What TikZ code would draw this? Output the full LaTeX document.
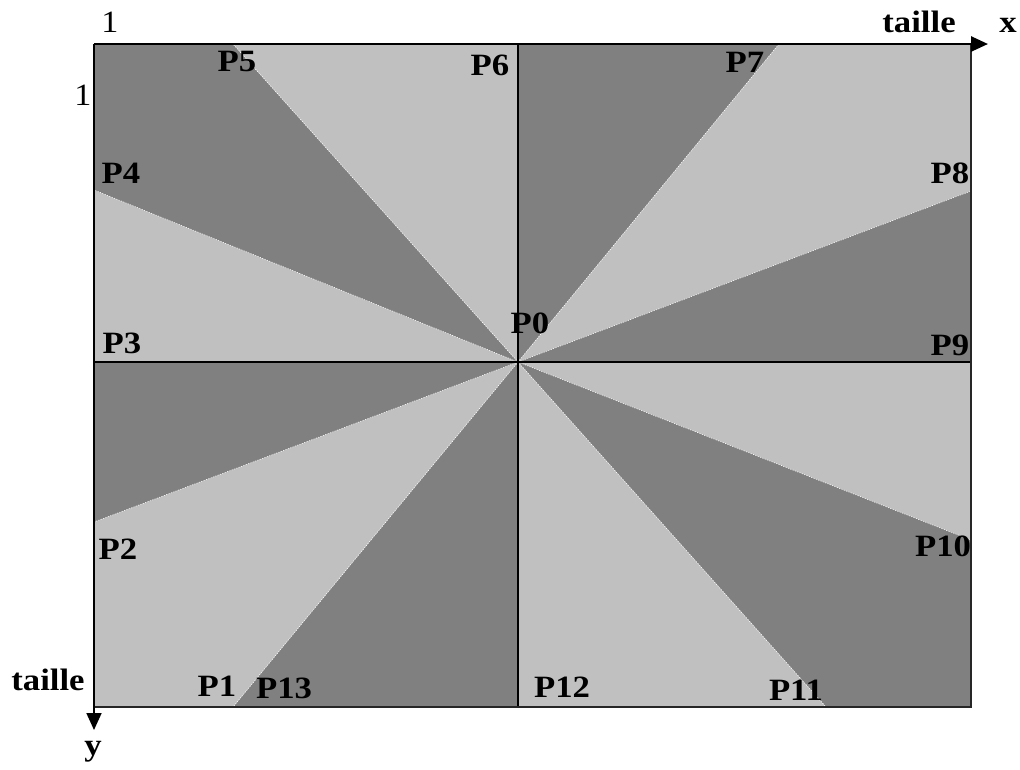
\documentclass[tikz,border=0pt]{standalone}
\usepackage{fontspec}
\setmainfont{Liberation Serif}
\usetikzlibrary{arrows.meta}
\definecolor{darkg}{RGB}{128,128,128}
\definecolor{lightg}{RGB}{192,192,192}
\begin{document}
\begin{tikzpicture}[x=1pt,y=-1pt,
  lbl/.style={font=\fontsize{31}{33}\selectfont\bfseries, inner sep=0pt, xscale=1.12},
  plain/.style={font=\fontsize{31}{33}\selectfont, inner sep=0pt, xscale=1.1},
  darkzone/.style={fill=darkg},
  lightzone/.style={fill=lightg},
  seam/.style={draw=white, line width=0.6pt, dash pattern=on 1pt off 1.5pt},
  axisline/.style={-{Triangle[length=17pt,width=15pt]}}]
\useasboundingbox (0,0) rectangle (1020,769);
% corner and edge points
\coordinate (O) at (518,362);
\coordinate (TL) at (94,44);
\coordinate (TR) at (971,44);
\coordinate (BR) at (971,707);
\coordinate (BL) at (94,707);
\coordinate (P1) at (233,707);
\coordinate (P2) at (94,522);
\coordinate (P3) at (94,362);
\coordinate (P4) at (94,190);
\coordinate (P5) at (233,44);
\coordinate (P6) at (518,44);
\coordinate (P7) at (779,44);
\coordinate (P8) at (971,191);
\coordinate (P9) at (971,362);
\coordinate (P10) at (971,540);
\coordinate (P11) at (826,707);
\coordinate (P12) at (518,707);
\coordinate (P13) at (233,707);
\coordinate (XE) at (988,44);
\coordinate (YE) at (94,730);
% sectors
\fill[lightzone] (O) -- (P3) -- (P4) -- cycle;
\fill[darkzone] (O) -- (P4) -- (TL) -- (P5) -- cycle;
\fill[lightzone] (O) -- (P5) -- (P6) -- cycle;
\fill[darkzone] (O) -- (P6) -- (P7) -- cycle;
\fill[lightzone] (O) -- (P7) -- (TR) -- (P8) -- cycle;
\fill[darkzone] (O) -- (P8) -- (P9) -- cycle;
\fill[lightzone] (O) -- (P9) -- (P10) -- cycle;
\fill[darkzone] (O) -- (P10) -- (BR) -- (P11) -- cycle;
\fill[lightzone] (O) -- (P11) -- (P12) -- cycle;
\fill[darkzone] (O) -- (P12) -- (P13) -- cycle;
\fill[lightzone] (O) -- (P1) -- (BL) -- (P2) -- cycle;
\fill[darkzone] (O) -- (P2) -- (P3) -- cycle;
% seams
\foreach \p in {P1,P2,P4,P5,P7,P8,P10,P11}{\draw[seam] (O) -- (\p);}
% black lines
\draw[line width=1.3pt] (P3) -- (P9);
\draw[line width=1.3pt] (P6) -- (P12);
\draw[line width=1.3pt, draw=black!85] (TR) -- (BR) -- (BL);
\draw[axisline, line width=2.6pt] (TL) -- (XE);
\draw[axisline, line width=1.8pt] (TL) -- (YE);
% labels
\node[plain] (one1) at (110,22) {1};
\node[plain] (one2) at (83,95) {1};
\node[lbl] (tx) at (919,22) {taille};
\node[lbl] (lx) at (1008,25) {x};
\node[lbl] (ty) at (48,680) {taille};
\node[lbl] (ly) at (93,752) {y};
\node[lbl] (lP0) at (530,323) {P0};
\node[lbl] (lP1) at (217,686) {P1};
\node[lbl] (lP2) at (118,549) {P2};
\node[lbl] (lP3) at (122,343) {P3};
\node[lbl] (lP4) at (121,173) {P4};
\node[lbl] (lP5) at (237,61) {P5};
\node[lbl] (lP6) at (490,65) {P6};
\node[lbl] (lP7) at (745,62) {P7};
\node[lbl] (lP8) at (950,173) {P8};
\node[lbl] (lP9) at (950,345) {P9};
\node[lbl] (lP10) at (943,546) {P10};
\node[lbl] (lP11) at (796,690) {P11};
\node[lbl] (lP12) at (562,687) {P12};
\node[lbl] (lP13) at (284,688) {P13};
\end{tikzpicture}
\end{document}
